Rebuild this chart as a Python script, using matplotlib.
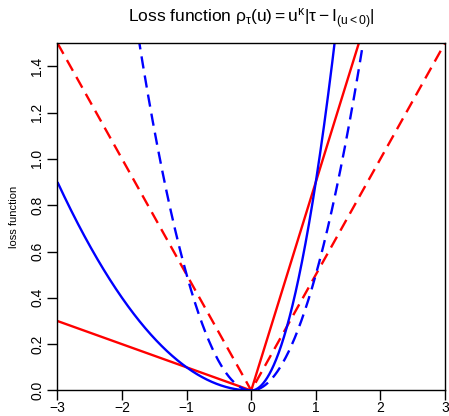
import numpy as np
import matplotlib
matplotlib.use("Agg")
import matplotlib.pyplot as plt

# Loss function rho_tau(u) = |u|^kappa * |tau - I(u<0)|
# parametros de cada curva
curve_tau = [0.9, 0.5, 0.9, 0.5]
curve_kappa = [1, 1, 2, 2]
curve_color = ["red", "red", "blue", "blue"]
curve_style = ["solid", "dashed", "solid", "dashed"]

x_ticks = [-3, -2, -1, 0, 1, 2, 3]
y_ticks = [0.0, 0.2, 0.4, 0.6, 0.8, 1.0, 1.2, 1.4]

plt.rcParams["font.family"] = ["Liberation Sans", "DejaVu Sans"]
plt.rcParams["mathtext.fontset"] = "custom"
plt.rcParams["mathtext.rm"] = "Liberation Sans"
plt.rcParams["mathtext.it"] = "Liberation Sans"
plt.rcParams["mathtext.bf"] = "Liberation Sans:bold"
plt.rcParams["mathtext.sf"] = "Liberation Sans"


def rho(u, tau, kappa):
    return np.abs(u) ** kappa * np.abs(tau - (u < 0))


u = np.linspace(-3, 3, 2001)

fig = plt.figure(figsize=(4.49, 4.16), dpi=100)
ax = fig.add_axes([0.128, 0.0613, 0.863, 0.835])

for t, k, c, s in zip(curve_tau, curve_kappa, curve_color, curve_style):
    line, = ax.plot(u, rho(u, t, k), color=c, lw=1.7, solid_capstyle="butt")
    if s == "dashed":
        line.set_dashes((5.2, 3.0))

ax.set_xlim(-3, 3)
ax.set_ylim(0, 1.5)
ax.set_xticks(x_ticks)
ax.set_yticks(y_ticks)
ax.set_xticklabels([f"{v:d}".replace("-", "\u2212") for v in x_ticks])
ax.set_yticklabels([f"{v:.1f}" for v in y_ticks], rotation=90, va="center")
ax.tick_params(direction="out", length=7, width=1, labelsize=10)
ax.tick_params(axis="x", pad=0.8)
ax.tick_params(axis="y", pad=2.5)
for sp in ax.spines.values():
    sp.set_linewidth(1)

ax.set_ylabel("loss function", fontsize=8, labelpad=8)
ax.set_title(r"Loss function $\rho_\tau(u) = u^\kappa|\tau - I_{(u<0)}|$",
             fontsize=12.5, pad=15)

fig.savefig("out.png", dpi=100)
